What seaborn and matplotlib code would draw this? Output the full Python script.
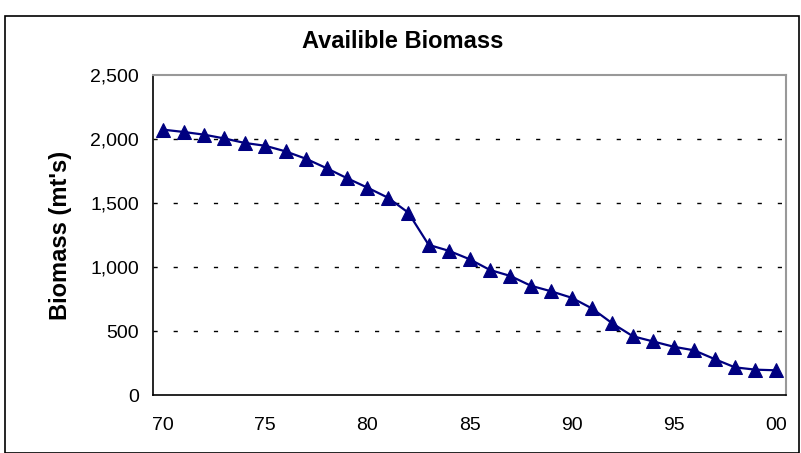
import matplotlib
matplotlib.use("Agg")
import matplotlib.pyplot as plt
import seaborn as sns
import pandas as pd
from matplotlib.patches import Rectangle
from matplotlib.ticker import FuncFormatter, FixedLocator

sns.set_theme(style="white")
plt.rcParams['font.family'] = ['Liberation Sans', 'DejaVu Sans']
plt.rcParams['text.color'] = 'black'
plt.rcParams['axes.labelcolor'] = 'black'
plt.rcParams['xtick.color'] = 'black'
plt.rcParams['ytick.color'] = 'black'

years = ["70", "71", "72", "73", "74", "75", "76", "77", "78", "79",
         "80", "81", "82", "83", "84", "85", "86", "87", "88", "89",
         "90", "91", "92", "93", "94", "95", "96", "97", "98", "99", "00"]
biomass = [2073, 2055, 2034, 2004, 1969, 1947, 1903, 1845, 1772, 1694,
           1620, 1542, 1425, 1173, 1126, 1061, 977, 930, 854, 810,
           760, 676, 559, 459, 418, 377, 349, 281, 216, 198, 193]
label_years = ["70", "75", "80", "85", "90", "95", "00"]

df = pd.DataFrame({"idx": range(len(years)), "year": years, "biomass": biomass})

fig = plt.figure(figsize=(8.01, 4.53), dpi=100)
ax = fig.add_axes([153/801, 1-395/453, (786-153)/801, (395-75)/453])

sns.lineplot(data=df, x="idx", y="biomass", ax=ax, color="#000080",
             marker="^", markersize=9.5, markeredgecolor="#000080",
             linewidth=1.6)

ax.set_xlim(-0.5, len(years) - 0.5)
ax.set_ylim(0, 2500)
ax.set_yticks([0, 500, 1000, 1500, 2000, 2500])
ax.yaxis.set_major_formatter(FuncFormatter(lambda v, p: f"{int(v):,}"))

label_pos = [years.index(y) for y in label_years]
ax.set_xticks(label_pos)
ax.set_xticklabels(label_years)
ax.xaxis.set_minor_locator(FixedLocator([i - 0.5 for i in range(len(years) + 1)]))
ax.tick_params(axis="x", which="major", length=0, pad=16, labelsize=14)
ax.tick_params(axis="x", which="minor", length=5, width=1, color="black", direction="out")
ax.tick_params(axis="y", which="major", length=5, width=1, color="black",
               direction="out", labelsize=14, pad=5)

ax.set_xlabel("")
ax.set_ylabel("Biomass (mt's)", fontsize=17, fontweight="bold")
ax.yaxis.set_label_coords((72 - 153) / (786 - 153), 0.5)

for v in [500, 1000, 1500, 2000]:
    ax.axhline(v, color="black", linestyle=(0, (3, 11.5)), linewidth=1.0, zorder=0)

for s in ["left", "bottom"]:
    ax.spines[s].set_color("black")
    ax.spines[s].set_linewidth(1.2)
for s in ["top", "right"]:
    ax.spines[s].set_color("#999999")
    ax.spines[s].set_linewidth(1.5)

fig.text(403/801, 1 - 42/453, "Availible Biomass", ha="center", va="center",
         fontsize=17, fontweight="bold")

fig.patches.append(Rectangle((5/801, 0), 794/801, 1 - 16/453, transform=fig.transFigure,
                             fill=False, edgecolor="black", linewidth=1.2))

fig.savefig("out.png", dpi=100)
